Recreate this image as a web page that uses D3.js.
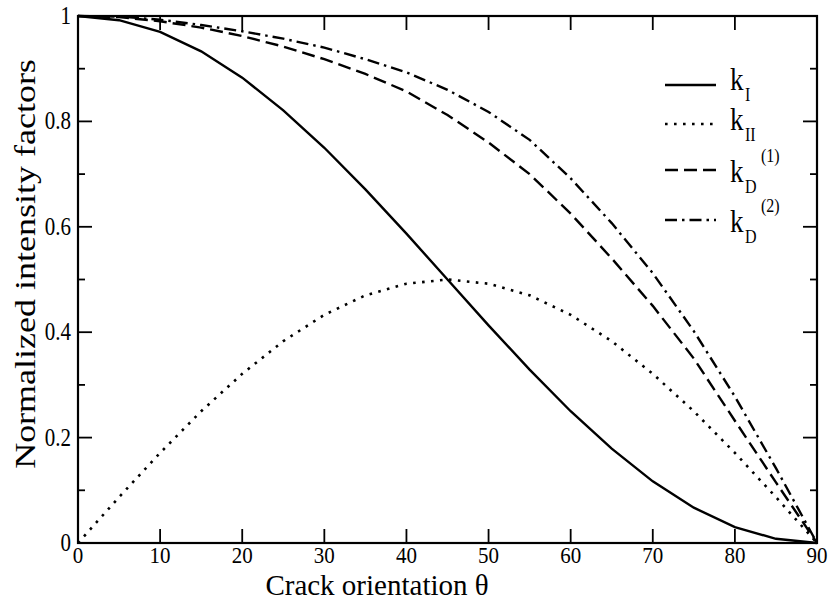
<!DOCTYPE html>
<html>
<head>
<meta charset="utf-8">
<script src="https://cdn.jsdelivr.net/npm/d3@7"></script>
<style>
  html, body { margin: 0; padding: 0; background: #fff; }
  svg { display: block; }
  text { font-family: "Liberation Serif", "Times New Roman", serif; fill: #000; }
</style>
</head>
<body>
<svg id="chart" width="832" height="603"></svg>
<script>
// ---- data ----
const theta = [0, 5, 10, 15, 20, 25, 30, 35, 40, 45, 50, 55, 60, 65, 70, 75, 80, 85, 90];
const kI  = [1.0, 0.992, 0.970, 0.933, 0.883, 0.821, 0.750, 0.671, 0.587, 0.500, 0.413, 0.329, 0.250, 0.179, 0.117, 0.067, 0.030, 0.008, 0.0];
const kII = [0.0, 0.087, 0.171, 0.250, 0.321, 0.383, 0.433, 0.470, 0.492, 0.500, 0.492, 0.470, 0.433, 0.383, 0.321, 0.250, 0.171, 0.087, 0.0];
const kD1 = [1.0, 0.998, 0.990, 0.978, 0.962, 0.942, 0.918, 0.890, 0.857, 0.812, 0.760, 0.700, 0.625, 0.540, 0.450, 0.350, 0.232, 0.115, 0.0];
const kD2 = [1.0, 0.999, 0.993, 0.983, 0.971, 0.957, 0.940, 0.918, 0.893, 0.860, 0.818, 0.765, 0.692, 0.607, 0.512, 0.402, 0.278, 0.142, 0.0];

const xTicks = [0, 10, 20, 30, 40, 50, 60, 70, 80, 90];
const xTickLabels = ["0", "10", "20", "30", "40", "50", "60", "70", "80", "90"];
const yTicks = [0, 0.2, 0.4, 0.6, 0.8, 1.0];
const yTickLabels = ["0", "0.2", "0.4", "0.6", "0.8", "1"];
const yMinorTicks = [0.1, 0.3, 0.5, 0.7, 0.9];

const xTitle = "Crack orientation \u03B8";
const yTitle = "Normalized intensity factors";

const seriesNames = ["I", "II", "D", "D"];
const seriesSup = ["", "", "(1)", "(2)"];

// ---- layout ----
const svg = d3.select("#chart");
const L = 78, R = 817, T = 16, B = 543;
const x = d3.scaleLinear().domain([0, 90]).range([L, R]);
const y = d3.scaleLinear().domain([0, 1]).range([B, T]);
const VS = 1.2; // vertical stretch of text in the reference

function stext(parent, px, py, str, size, anchor, vs) {
  const g = parent.append("g").attr("transform", `translate(${px},${py}) scale(1,${vs || VS})`);
  return g.append("text").attr("x", 0).attr("y", 0)
    .attr("font-size", size).attr("text-anchor", anchor || "start").text(str);
}

// ---- curves ----
const styles = [
  { data: kI,  dash: null, w: 2.4 },
  { data: kII, dash: "2.6,6.4", w: 2.6 },
  { data: kD1, dash: "13,6", w: 2.4 },
  { data: kD2, dash: "12,5,2.5,5", w: 2.4 }
];
const line = d3.line().x((d, i) => x(theta[i])).y(d => y(d));
styles.forEach(s => {
  svg.append("path").datum(s.data)
    .attr("d", line)
    .attr("fill", "none")
    .attr("stroke", "#000")
    .attr("stroke-width", s.w)
    .attr("stroke-dasharray", s.dash);
});

// ---- frame & ticks ----
const frame = svg.append("g").attr("stroke", "#000").attr("fill", "none");
frame.append("rect").attr("x", L).attr("y", T).attr("width", R - L).attr("height", B - T)
  .attr("stroke-width", 2.2);
const MAJ = 14, MIN = 7;
xTicks.forEach(t => {
  frame.append("line").attr("x1", x(t)).attr("x2", x(t)).attr("y1", B).attr("y2", B - MAJ).attr("stroke-width", 1.8);
  frame.append("line").attr("x1", x(t)).attr("x2", x(t)).attr("y1", T).attr("y2", T + MAJ).attr("stroke-width", 1.8);
});
yTicks.forEach(t => {
  frame.append("line").attr("x1", L).attr("x2", L + MAJ).attr("y1", y(t)).attr("y2", y(t)).attr("stroke-width", 1.8);
  frame.append("line").attr("x1", R).attr("x2", R - MAJ).attr("y1", y(t)).attr("y2", y(t)).attr("stroke-width", 1.8);
});
yMinorTicks.forEach(t => {
  frame.append("line").attr("x1", L).attr("x2", L + MIN).attr("y1", y(t)).attr("y2", y(t)).attr("stroke-width", 1.8);
  frame.append("line").attr("x1", R).attr("x2", R - MIN).attr("y1", y(t)).attr("y2", y(t)).attr("stroke-width", 1.8);
});

// ---- tick labels ----
xTicks.forEach((t, i) => stext(svg, x(t), 563, xTickLabels[i], 21, "middle", 1.1));
yTicks.forEach((t, i) => stext(svg, 71, y(t) + 8, yTickLabels[i], 21, "end"));

// ---- axis titles ----
stext(svg, 377, 595, xTitle, 29, "middle", 1.0);
svg.append("g").attr("transform", `translate(35,264) rotate(-90) scale(${VS},1)`)
  .append("text").attr("font-size", 30).attr("text-anchor", "middle").text(yTitle);

// ---- legend ----
const legLineY = [85, 124, 170, 220];
const legTextY = [90, 130, 182, 232];
const legX1 = 665, legX2 = 716, legTX = 730;
styles.forEach((s, i) => {
  svg.append("line").attr("x1", legX1).attr("x2", legX2)
    .attr("y1", legLineY[i]).attr("y2", legLineY[i])
    .attr("stroke", "#000")
    .attr("stroke-width", s.w)
    .attr("stroke-dasharray", s.dash);
  const g = svg.append("g").attr("transform", `translate(${legTX},${legTextY[i]}) scale(1,${VS})`);
  g.append("text").attr("font-size", 27).text("k");
  g.append("text").attr("x", 15).attr("y", 9).attr("font-size", 16).text(seriesNames[i]);
  if (seriesSup[i]) {
    g.append("text").attr("x", 31).attr("y", -17).attr("font-size", 16).text(seriesSup[i]);
  }
});
</script>
</body>
</html>
